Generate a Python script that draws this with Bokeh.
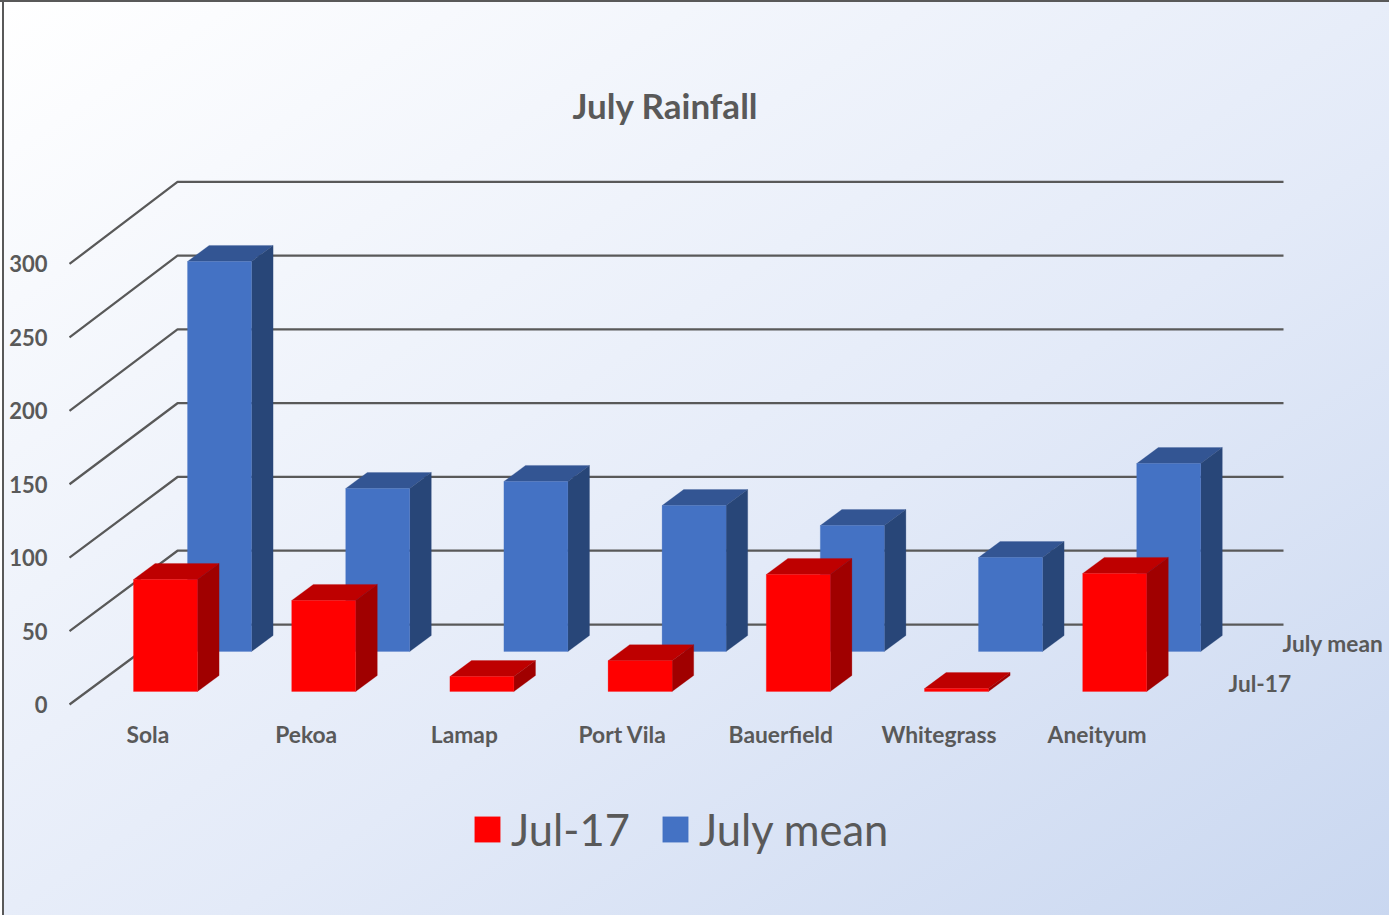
from bokeh.plotting import figure
from bokeh.embed import file_html
from bokeh.resources import INLINE
from bokeh.core.properties import value
from bokeh.models import Range1d, FixedTicker, Legend, LegendItem

stations = ["Sola", "Pekoa", "Lamap", "Port Vila", "Bauerfield", "Whitegrass", "Aneityum"]
jul17 = [76.3, 62, 10.2, 21, 79.7, 2, 80.4]
july_mean = [265.6, 111, 115.8, 99.4, 85.8, 64, 128]
y_ticks = [0, 50, 100, 150, 200, 250, 300]

TEXT = "#595959"
FONT = "Lato"
PX_X = 158.2      # px per category
PX_Y = 1.4685     # px per mm
X0 = 155.45 - 8   # figure px of first category centre
Y0 = 712 - 8      # figure px of value 0 on the front plane
W, H = 1389, 915
T = 125

HALF = 32 / PX_X
WALL_DX, WALL_DY = 108 / PX_X, 80 / PX_Y


def project(i, d, v):
    return i + d * WALL_DX, v + d * WALL_DY


def faces(values, d0, depth=0.2):
    front, top, side = ([], [], []), ([], []), ([], [])
    for i, v in enumerate(values):
        xl, yb = project(i - HALF, d0, 0)
        xr, yt = project(i + HALF, d0, v)
        xl2, yt2 = project(i - HALF, d0 + depth, v)
        xr2, yb2 = project(i + HALF, d0 + depth, 0)
        front[0].append(xl); front[1].append(xr); front[2].append((yb, yt))
        top[0].append([xl, xr, xr2, xl2]); top[1].append([yt, yt, yt2, yt2])
        side[0].append([xr, xr2, xr2, xr]); side[1].append([yb, yb2, yt2, yt])
    return front, top, side


p = figure(width=W, height=H, output_backend="svg", toolbar_location=None,
           x_range=Range1d((0 - X0) / PX_X, (W - X0) / PX_X),
           y_range=Range1d((Y0 - H) / PX_Y, (Y0 - T) / PX_Y),
           min_border_left=0, min_border_right=0, min_border_top=T, min_border_bottom=0,
           border_fill_color=None, background_fill_color=None, outline_line_color=None,
           title="July Rainfall")
p.styles = {
    "background": "linear-gradient(#595959,#595959) 0 0/100% 2px no-repeat,"
                  "linear-gradient(#595959,#595959) 2px 0/2px 100% no-repeat,"
                  "linear-gradient(to bottom right,#ffffff 0%,#e3eaf8 58%,#c9d7f0 100%) 4px 2px/100% 100% no-repeat"
}
p.title.align = "left"
p.title.text_font = FONT
p.title.text_font_size = "35px"
p.title.text_font_style = "bold"
p.title.text_color = TEXT
p.title.offset = 572
p.title.standoff = 0
p.grid.visible = False

for ax in (p.xaxis[0], p.yaxis[0]):
    ax.axis_line_color = None
    ax.major_tick_line_color = None
    ax.minor_tick_line_color = None
    ax.major_tick_in = ax.major_tick_out = 0
    ax.major_label_text_font = FONT
    ax.major_label_text_font_style = "bold"
    ax.major_label_text_color = TEXT
p.yaxis[0].major_label_text_font_size = "22px"
p.xaxis[0].major_label_text_font_size = "22.8px"
p.yaxis[0].ticker = FixedTicker(ticks=y_ticks)
p.yaxis[0].fixed_location = (52 - X0) / PX_X
p.yaxis[0].major_label_standoff = 5
p.xaxis[0].ticker = FixedTicker(ticks=list(range(len(stations))))
p.xaxis[0].major_label_overrides = {i: s for i, s in enumerate(stations)}
p.xaxis[0].fixed_location = (712 - 725) / PX_Y
p.xaxis[0].major_label_standoff = 2

# walls
front_x = (77 - 8 - X0) / PX_X
right_x = (1291 - 8 - X0) / PX_X
back_x = front_x + WALL_DX
wall_xs, wall_ys = [], []
for t in y_ticks:
    back = t + WALL_DY * (1 + t / 12000)
    wall_xs.append([front_x, back_x, right_x])
    wall_ys.append([t, back, back])
p.multi_line(wall_xs, wall_ys, line_color=TEXT, line_width=2.25)

# bars
bf, bt, bs = faces(july_mean, 0.6625)
p.patches(bt[0], bt[1], fill_color="#335593", line_color="#335593", line_width=0.25)
p.patches(bs[0], bs[1], fill_color="#284678", line_color="#284678", line_width=0.25)
blue = p.quad(left=bf[0], right=bf[1], bottom=[a for a, _ in bf[2]], top=[b for _, b in bf[2]],
              fill_color="#4472C4", line_color="#4472C4", line_width=0.25)

rf, rt, rs = faces(jul17, 0.1625)
p.patches(rt[0], rt[1], fill_color="#BE0000", line_color="#BE0000", line_width=0.25)
p.patches(rs[0], rs[1], fill_color="#A00000", line_color="#A00000", line_width=0.25)
red = p.quad(left=rf[0], right=rf[1], bottom=[a for a, _ in rf[2]], top=[b for _, b in rf[2]],
             fill_color="#FF0000", line_color="#FF0000", line_width=0.25)

# depth-axis labels
series_names = ["July mean", "Jul-17"]
p.text(x=[(1290 - 8 - X0) / PX_X, (1236 - 8 - X0) / PX_X],
       y=[(712 - 650.5) / PX_Y, (712 - 691) / PX_Y],
       text=series_names, text_font=value(FONT), text_font_size="22.7px",
       text_font_style="bold", text_color=TEXT, text_baseline="middle", text_align="left")

legend = Legend(items=[LegendItem(label="Jul-17", renderers=[red]),
                       LegendItem(label="July mean", renderers=[blue])],
                orientation="horizontal", location=(471, 60),
                label_text_font=FONT, label_text_font_size="43.5px", label_text_color=TEXT,
                glyph_width=32, glyph_height=32, label_standoff=8, spacing=29,
                background_fill_alpha=0, border_line_color=None, padding=0, margin=0)
p.add_layout(legend, "center")

open("out.html", "w").write(file_html(p, INLINE))
